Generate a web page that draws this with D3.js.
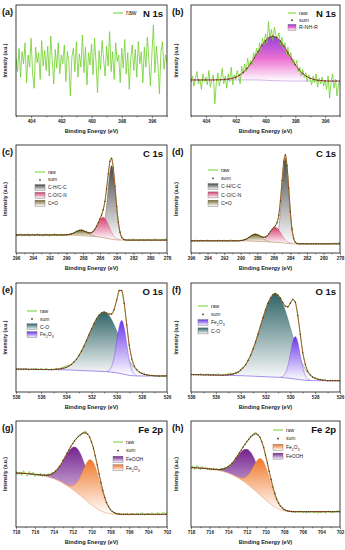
<!DOCTYPE html>
<html>
<head>
<meta charset="utf-8">
<script src="https://cdn.jsdelivr.net/npm/d3@7"></script>
<style>
  body { margin: 0; background: #fff; }
  svg { display: block; }
  text { font-family: "Liberation Sans", Arial, sans-serif; }
</style>
</head>
<body>
<div id="chart"></div>
<script>
// tick labels (binding energy, eV)
const ticksN = [404, 402, 400, 398, 396];
const ticksC = [296, 294, 292, 290, 288, 286, 284, 282, 280, 278];
const ticksO = [538, 536, 534, 532, 530, 528, 526];
const ticksFe = [718, 716, 714, 712, 710, 708, 706, 704, 702];

// (a) N 1s raw, 405 -> 395 eV, step 0.1
const rawA = [52,40,61,35,58,47,66,30,55,44, 70,38,25,62,48,57,33,68,45,59,
  41,63,36,72,50,29,60,43,66,38, 55,47,64,31,58,49,18,53,61,40,
  67,35,56,44,73,39,62,28,57,46, 65,37,70,48,21,59,42,68,51,36,
  63,45,76,40,58,33,66,49,55,30, 61,43,69,38,57,24,52,64,41,60,
  35,67,47,58,30,62,44,71,50,27, 56,82,39,63,46,20,58,67,42,55, 48];

// (b) N 1s raw, 405 -> 395 eV, step 0.1
const rawB = [30,36,27,34,40,29,33,24,38,31, 35,28,41,26,33,37,11,30,39,27,
  34,43,29,36,25,38,31,44,28,37, 33,41,36,29,45,38,47,40,52,44,
  50,46,57,53,61,55,66,59,70,64, 74,66,85,70,78,68,80,73,69,75,
  64,71,60,66,56,62,52,57,48,51, 45,50,40,44,36,42,35,39,31,37,
  33,28,36,30,38,26,34,29,35,27, 32,24,36,16,30,38,25,33,18,29, 31];
// (b) fit, 405 -> 395 eV, step 0.25
const sumB = [32.5,32.5,32.5,32.5,32.5,32.5,32.5,32.6,32.7,32.9,33.2,33.9,35.0,36.7,39.3,42.8,47.2,
  52.5,58.0,63.5,68.0,70.9,71.9,70.7,67.5,62.8,57.2,51.5,46.2,41.8,38.3,35.7,34.0,32.9,32.2,31.9,31.7,
  31.5,31.5,31.5,31.5];
const bgB = [32.5,32.5,32.5,32.5,32.5,32.5,32.5,32.5,32.5,32.5,32.5,32.5,32.5,32.5,32.5,32.5,32.5,
  32.5,32.4,32.3,32.2,32.0,31.9,31.8,31.7,31.6,31.6,31.5,
  31.5,31.5,31.5,31.5,31.5,31.5,31.5,31.5,31.5,31.5,31.5,31.5,31.5];
const nhrB = [0.2,0.4,0.7,1.4,2.5,4.2,6.8,10.3,14.7,20.0,25.6,31.2,35.8,38.9,40,
  38.9,35.8,31.2,25.6,20.0,14.7,10.3,6.8,4.2,2.5,1.4,0.7,0.4,0.2]; // from 403 eV

// (c) C 1s, 296 -> 278 eV, step 0.2
const rawC = [17.5,15.8,16.9,18.0,15.6,17.2,16.1,17.9,15.4,16.8, 17.6,15.9,16.5,18.2,16.0,17.1,15.5,16.9,17.8,16.2,
  15.7,17.4,16.6,18.1,15.9,17.0,16.3,17.7,15.8,16.9,
  17.3,16.6,17.9,17.2,18.9,18.6,20.5,20.0,21.8,20.7,21.4,19.6,20.2,18.4,19.0,18.5,20.6,21.5,25.3,27.6,
  32.0,34.7,40.8,47.2,60.3,73.0,85.6,88.5,78.1,62.6,42.7,29.0,18.7,15.1,12.3,12.8,
  11.6,12.7,11.2,12.4,13.0,11.5,12.2,11.0,12.9,11.8, 12.5,11.3,12.8,11.9,12.3,11.1,12.6,13.1,11.7,12.2,
  11.4,12.9,12.0,13.3,11.8];
const sumC = [16.7,16.7,16.7,16.7,16.7,16.7,16.7,16.7,16.7,16.7,16.7,16.7,16.7,16.7,16.7,
  16.7,16.7,16.7,16.7,16.7,16.7,16.7,16.7,16.7,16.7,16.7,16.7,16.7,16.7,16.7,
  16.9,17.0,17.2,17.7,18.2,19.0,19.8,20.5,21.0,21.1,20.8,20.1,19.5,18.8,18.5,18.9,20.0,22.0,24.8,28.0,
  31.5,35.2,40.1,47.8,59.5,73.5,84.8,87.4,78.8,61.9,43.3,28.4,19.3,14.5,12.8,12.2,
  12.0,12.0,12.0,12.0,12.0,12.0,12.0,12.0,12.0,12.0,12.0,12.0,12.0,12.0,12.0,12.0,12.0,12.0,12.0,12.0,
  12.0,12.0,12.0,12.0,12.0];
const bgC = [16.7,16.7,16.7,16.7,16.7,16.7,16.7,16.7,16.7,16.7,16.7,16.7,16.7,16.7,16.7,
  16.7,16.7,16.7,16.7,16.7,16.7,16.7,16.7,16.7,16.7,16.7,16.7,16.7,16.7,16.7,
  16.7,16.7,16.6,16.6,16.5,16.5,16.4,16.3,16.2,16.1,16.0,15.9,15.8,15.7,15.6,15.5,15.4,15.3,15.1,14.9,
  14.7,14.5,14.2,13.9,13.6,13.3,13.0,12.7,12.5,12.3,12.2,12.1,12.05,12.0,12.0,12.0,
  12.0,12.0,12.0,12.0,12.0,12.0,12.0,12.0,12.0,12.0,12.0,12.0,12.0,12.0,12.0,12.0,12.0,12.0,12.0,12.0,
  12.0,12.0,12.0,12.0,12.0];
const ccC = [0.2,0.8,2.5,6.9,15.7,29.9,47.3,62.3,68.3,62.3,47.3,29.9,15.7,6.9,2.5,0.8,0.2]; // from 286.2
const coC = [0.3,0.6,1.2,2.3,4.0,6.4,9.5,12.9,16.0,18.2,19,18.2,16.0,12.9,9.5,6.4,4.0,2.3,1.2,0.6,0.3]; // from 287.6
const cdoC = [0.15,0.3,0.6,1.1,1.7,2.5,3.4,4.2,4.8,5,4.8,4.2,3.4,2.5,1.7,1.1,0.6,0.3,0.15]; // from 290.0

// (d) C 1s, 296 -> 278 eV, step 0.2
const rawD = [11.8,10.9,11.5,12.0,10.7,11.4,11.9,10.8,11.6,11.1, 12.2,10.6,11.3,11.8,10.9,11.7,11.0,12.1,10.8,11.4,
  11.9,11.2,10.7,11.6,12.3,11.0,11.5,10.9,11.8,11.3,
  11.9,11.4,12.4,12.9,13.1,14.8,15.9,16.2,17.8,17.6,17.5,16.0,15.9,14.6,14.9,14.6,16.2,17.4,20.3,21.6,
  24.1,25.0,28.6,34.5,48.7,66.6,85.0,91.4,80.6,60.8,37.7,22.6,13.1,10.3,8.6,8.9,
  8.2,8.9,8.4,8.7,8.1,8.8,8.5,8.3,8.9,8.0, 8.6,8.4,9.0,8.2,8.7,8.5,8.1,8.8,8.3,8.9,
  8.6,9.4,8.2,9.8,8.7];
const sumD = [11.3,11.3,11.3,11.3,11.3,11.3,11.3,11.3,11.3,11.3,11.3,11.3,11.3,11.3,11.3,
  11.3,11.3,11.3,11.3,11.3,11.3,11.3,11.3,11.3,11.3,11.3,11.3,11.3,11.3,11.3,
  11.5,11.7,12.1,12.6,13.4,14.4,15.4,16.5,17.1,17.3,17.0,16.4,15.4,14.8,14.4,14.9,15.9,17.7,19.9,21.9,
  23.7,25.4,28.1,34.9,48.2,67.1,84.5,90.9,81.1,60.3,38.2,22.2,13.5,10.0,8.8,8.5,
  8.5,8.5,8.5,8.5,8.5,8.5,8.5,8.5,8.5,8.5,8.5,8.5,8.5,8.5,8.5,8.5,8.5,8.5,8.5,8.5,
  8.5,8.5,8.5,8.5,8.5];
const bgD = [11.3,11.3,11.3,11.3,11.3,11.3,11.3,11.3,11.3,11.3,11.3,11.3,11.3,11.3,11.3,
  11.3,11.3,11.3,11.3,11.3,11.3,11.3,11.3,11.3,11.3,11.3,11.3,11.3,11.3,11.3,
  11.3,11.3,11.25,11.2,11.15,11.1,11.0,10.95,10.9,10.8,10.75,10.7,10.6,10.55,10.5,10.45,10.4,10.3,10.2,10.1,
  10.0,9.9,9.8,9.7,9.6,9.5,9.3,9.1,8.9,8.75,8.65,8.6,8.55,8.5,8.5,8.5,
  8.5,8.5,8.5,8.5,8.5,8.5,8.5,8.5,8.5,8.5,8.5,8.5,8.5,8.5,8.5,8.5,8.5,8.5,8.5,8.5,
  8.5,8.5,8.5,8.5,8.5];
const ccD = [0.3,1.5,4.9,13.4,29.1,50.6,70.5,78.8,70.5,50.6,29.1,13.4,4.9,1.5,0.3]; // from 286.0
const coD = [0.2,0.4,0.9,1.7,3.0,4.7,7.0,9.5,11.8,13.4,14,13.4,11.8,9.5,7.0,4.7,3.0,1.7,0.9,0.4,0.2]; // from 287.8
const cdoD = [0.2,0.4,0.8,1.4,2.2,3.3,4.4,5.5,6.2,6.5,6.2,5.5,4.4,3.3,2.2,1.4,0.8,0.4,0.2]; // from 290.0

// (e) O 1s, 538 -> 526 eV, step 0.2
const rawE = [21.8,20.3,21.5,20.6,22.0,20.1,21.2,20.9,21.7,20.2,21.4,20.5,21.9,20.3,21.1,
  20.4,21.6,20.8,22.3,22.8,23.9,24.5,25.0,28.1,29.6,33.9,37.0,42.6,46.8,53.1,57.4,63.3,66.8,71.2,72.1,
  73.9,72.0,71.9,71.2,76.3,83.8,93.7,92.8,81.0,62.2,42.5,30.9,23.4,20.8,17.9,17.5,16.0,15.9,15.1,15.4,14.6,
  15.1,14.3,14.9,14.5,15.2];
const sumE = [21.0,21.0,20.9,20.9,20.9,20.8,20.8,20.8,20.7,20.7,20.7,20.6,20.6,20.6,20.5,
  20.7,20.9,21.0,21.4,21.9,22.6,23.8,25.3,27.4,30.0,33.4,37.4,42.0,47.1,52.5,57.8,62.8,67.2,70.6,72.6,
  73.3,72.6,71.5,71.6,75.6,84.3,93.0,93.3,81.3,61.6,43.0,30.4,23.8,20.3,18.3,17.1,16.3,15.7,15.3,15.1,14.9,
  14.7,14.7,14.7,14.7,14.7];
const bgE = [21.0,21.0,20.9,20.9,20.9,20.8,20.8,20.8,20.7,20.7,20.7,20.6,20.6,20.6,20.5,20.5,20.5,20.4,
  20.4,20.3,20.2,20.2,20.1,20.0,19.9,19.8,19.7,19.6,19.5,19.4,19.3,19.2,19.1,19.0,18.9,18.8,18.6,18.4,
  18.2,17.9,17.6,17.2,16.7,16.2,15.7,15.3,15.0,14.9,14.8,14.7,14.7,
  14.7,14.7,14.7,14.7,14.7,14.7,14.7,14.7,14.7,14.7];
const oCoE = [0.2,0.4,0.6,1.0,1.6,2.4,3.6,5.2,7.4,10.1,13.6,17.7,22.4,27.6,33.1,38.5,43.6,48.1,51.6,53.7,54.5,
  53.7,51.6,48.1,43.6,38.5,33.1,27.6,22.4,17.7,13.6,10.1,7.4,5.2,3.6,2.4,1.6,1.0,0.6,0.4,0.2]; // from 535.0
const oFeE = [0.3,1.5,5.3,14.1,28.2,42.7,49,42.7,28.2,14.1,5.3,1.5,0.3]; // from 530.8

// (f) O 1s, 538 -> 526 eV, step 0.2
const rawF = [16.6,15.4,16.3,15.5,16.8,15.2,16.1,16.4,15.0,16.2,15.8,16.7,15.1,16.0,
  15.9,16.9,17.4,16.2,18.1,17.6,20.8,22.9,24.3,29.6,33.0,40.1,45.2,53.8,60.0,68.9,74.7,82.2,85.7,90.1,
  90.9,88.3,86.8,81.4,79.3,77.6,82.0,84.4,83.1,69.8,53.5,35.7,26.1,18.5,16.4,13.2,13.1,11.4,11.8,10.6,11.2,
  10.0,10.8,10.2,10.9,10.3,10.6];
const sumF = [16.0,16.0,15.9,15.9,15.8,15.8,15.7,15.7,15.6,15.6,15.5,15.5,15.4,15.4,
  15.6,15.8,16.1,16.6,17.3,18.4,20.0,22.2,25.1,28.9,33.7,39.4,45.9,53.1,60.7,68.3,75.4,81.5,86.3,89.2,
  90.2,89.0,86.2,82.0,78.7,78.2,81.4,85.0,82.4,70.5,52.8,36.4,25.4,19.1,15.8,13.8,12.6,11.8,11.3,10.9,10.7,
  10.4,10.4,10.4,10.4,10.4,10.4];
const bgF = [16.0,16.0,15.9,15.9,15.8,15.8,15.7,15.7,15.6,15.6,15.5,15.5,15.4,15.4,15.3,
  15.3,15.2,15.2,15.1,15.0,15.0,14.9,14.8,14.7,14.6,14.5,14.4,14.3,14.2,14.1,14.0,13.9,13.8,13.7,13.6,
  13.5,13.4,13.2,13.0,12.8,12.5,12.2,11.9,11.6,11.3,11.0,10.8,10.6,10.5,10.4,10.4,10.4,10.4,10.4,10.4,10.4,
  10.4,10.4,10.4,10.4,10.4];
const oCoF = [0.3,0.5,0.9,1.4,2.2,3.4,5.0,7.3,10.3,14.2,19.1,24.9,31.5,38.8,46.5,54.2,61.4,67.6,72.5,75.5,76.6,
  75.5,72.5,67.6,61.4,54.2,46.5,38.8,31.5,24.9,19.1,14.2,10.3,7.3,5.0,3.4,2.2,1.4,0.9,0.5,0.3]; // from 535.2
const oFeF = [0.3,1.2,4.3,11.2,22.4,34.0,39,34.0,22.4,11.2,4.3,1.2,0.3]; // from 530.8

// (g) Fe 2p, 718 -> 702 eV, step 0.2
const rawG = [52.8,49.5,51.9,48.7,53.1,50.0,47.9,52.4,49.1,51.6,47.5,50.3,
  48.2,50.6,47.6,50.1,48.0,50.4,48.7,51.5,50.6,53.8,53.9,58.1,58.8,
  63.9,65.3,70.4,72.0,76.6,78.1,82.0,83.0,86.1,86.3,88.9,89.6,90.5,86.8,85.4,79.6,75.2,66.4,59.5,49.6,
  42.6,33.9,28.7,22.5,19.9,16.1,15.3,13.1,13.4,11.8,12.9,
  11.4,12.6,11.9,13.0,11.2,12.4,12.8,11.5,13.3,11.8,12.2,13.6,11.1,12.5,12.9,11.7,13.4,12.0,11.6,13.8,
  12.3,11.9,14.2,12.6,13.5];
const sumG = [51.0,50.9,50.8,50.7,50.6,50.5,50.4,50.2,50.0,49.8,49.6,49.4,
  49.3,49.1,49.0,48.9,48.9,49.0,49.5,50.1,51.2,52.6,54.5,56.9,59.6,
  62.8,66.0,69.4,72.7,75.8,78.7,81.2,83.4,85.2,86.9,88.0,88.8,88.7,87.5,84.7,80.3,74.4,67.1,58.7,50.2,
  41.8,34.5,28.0,23.1,19.3,16.6,14.7,13.6,12.7,12.3,12.2,
  12.0,12.0,12.0,12.0,12.0,12.0,12.0,12.0,12.0,12.0,12.0,12.0,12.0,12.0,12.0,12.0,12.0,12.0,12.0,12.0,
  12.0,12.0,12.0,12.0,12.0];
const bgG = [51.0,50.9,50.8,50.7,50.6,50.5,50.4,50.2,50.0,49.8,49.6,49.4,49.1,48.8,48.5,
  48.1,47.7,47.2,46.7,46.1,45.5,44.8,44.0,43.2,42.3,41.3,40.2,39.1,37.9,36.7,35.4,34.1,32.7,31.3,29.9,
  28.4,26.9,25.4,23.9,22.4,21.0,19.7,18.5,17.3,16.2,15.2,14.4,13.7,13.2,12.8,12.5,12.3,12.2,12.1,12.0,12.0,
  12.0,12.0,12.0,12.0,12.0,12.0,12.0,12.0,12.0,12.0,12.0,12.0,12.0,12.0,12.0,12.0,12.0,12.0,12.0,12.0,
  12.0,12.0,12.0,12.0,12.0];
const feoohG = [0.2,0.3,0.5,0.8,1.2,1.8,2.8,4.0,5.7,7.8,10.5,13.7,17.3,21.3,25.5,29.7,33.6,37.0,39.7,41.4,42,
  41.4,39.7,37.0,33.6,29.7,25.5,21.3,17.3,13.7,10.5,7.8,5.7,4.0,2.8,1.8,1.2,0.8,0.5,0.3,0.2]; // from 715.6
const fe2o3G = [0.2,0.3,0.6,1.2,2.1,3.6,5.7,8.7,12.5,17.3,22.6,28.3,33.6,38.1,41.0,42,
  41.0,38.1,33.6,28.3,22.6,17.3,12.5,8.7,5.7,3.6,2.1,1.2,0.6,0.3,0.2]; // from 713.0

// (h) Fe 2p, 718 -> 702 eV, step 0.2
const rawH = [55.1,57.6,54.2,58.3,56.9,53.8,57.2,55.0,56.6,53.9,55.8,
  53.6,55.7,53.5,55.4,53.1,55.5,53.9,56.2,54.8,57.9,57.1,61.0,61.3,65.8,66.4,70.8,71.9,76.1,77.2,81.3,
  81.9,85.8,85.6,88.8,89.0,86.0,85.7,79.4,75.9,67.1,61.2,51.6,45.5,36.9,32.4,25.8,23.5,19.2,18.7,16.0,
  16.3,14.4,15.4,13.9,14.8,
  13.6,14.9,14.0,15.2,13.4,14.6,12.9,14.3,13.7,15.0,13.2,14.5,12.8,14.1,13.5,14.8,13.0,14.4,15.3,13.6,
  14.2,13.9,14.7,15.4,14.1];
const sumH = [56.0,56.0,55.9,55.8,55.7,55.6,55.5,55.4,55.1,54.9,54.7,
  54.6,54.5,54.4,54.3,54.2,54.3,54.7,55.1,55.9,56.9,58.3,60.1,62.2,64.7,67.2,69.9,72.7,75.4,78.0,80.5,
  82.8,84.9,86.6,87.7,87.9,86.9,84.6,80.5,75.0,68.0,60.3,52.4,44.8,37.7,31.6,26.5,22.7,19.9,18.0,16.6,
  15.6,15.1,14.8,14.6,14.5,
  14.5,14.5,14.5,14.5,14.5,14.5,14.5,14.5,14.5,14.5,14.5,14.5,14.5,14.5,14.5,14.5,14.5,14.5,14.5,14.5,
  14.5,14.5,14.5,14.5,14.5];
const bgH = [56.0,56.0,55.9,55.8,55.7,55.6,55.5,55.4,55.1,54.9,54.7,54.5,54.3,54.0,53.7,53.3,
  52.9,52.5,51.9,51.4,50.8,50.1,49.4,48.5,47.7,46.7,45.6,44.5,43.3,42.1,40.8,39.4,38.0,36.5,35.0,33.5,
  31.9,30.4,28.8,27.2,25.6,24.1,22.7,21.4,20.1,19.0,17.9,17.1,16.3,15.8,15.4,15.0,14.8,14.7,14.6,14.5,
  14.5,14.5,14.5,14.5,14.5,14.5,14.5,14.5,14.5,14.5,14.5,14.5,14.5,14.5,14.5,14.5,14.5,14.5,14.5,14.5,
  14.5,14.5,14.5,14.5,14.5];
const feoohH = [0.1,0.2,0.4,0.6,0.9,1.4,2.2,3.2,4.5,6.1,8.2,10.7,13.6,16.7,20.0,23.3,26.4,29.1,31.2,32.5,33,
  32.5,31.2,29.1,26.4,23.3,20.0,16.7,13.6,10.7,8.2,6.1,4.5,3.2,2.2,1.4,0.9,0.6,0.4,0.2,0.1]; // from 715.8
const fe2o3H = [0.1,0.3,0.5,1.0,1.8,3.0,4.7,7.2,10.4,14.4,18.9,23.6,28.0,31.7,34.2,35,
  34.2,31.7,28.0,23.6,18.9,14.4,10.4,7.2,4.7,3.0,1.8,1.0,0.5,0.3,0.1]; // from 713.4

// ---- colours ----
const rawColor = "#6fcf2a";
const sumLine = "#b0392c";
const sumDot = "#3e3310";
const grads = {
  nhr:   [["0%", "#9440dc"], ["50%", "#ec6fd2"], ["100%", "#ffffff"]],
  cc:    [["0%", "#474747"], ["100%", "#ffffff"]],
  co:    [["0%", "#d63d6e"], ["100%", "#ffffff"]],
  cdo:   [["0%", "#7a6a2a"], ["100%", "#ffffff"]],
  oco:   [["0%", "#2f6467"], ["100%", "#ffffff"]],
  ofe:   [["0%", "#6a35e8"], ["100%", "#ffffff"]],
  feooh: [["0%", "#74238f"], ["100%", "#f7eefa"]],
  fe2o3: [["0%", "#f07a2c"], ["100%", "#ffffff"]]
};

// ---- layout ----
const rows = [{t: 5, b: 116}, {t: 145, b: 253}, {t: 283, b: 392}, {t: 421, b: 527}];
const cols = [{x0: 16, x1: 167, yl: 7, lab: 2}, {x0: 191, x1: 340, yl: 178, lab: 172}];

const panels = [
  {key: "a", c: 0, r: 0, title: "N 1s", dom: [405, 395], ticks: ticksN, raw: rawA, rawStep: 0.1,
   leg: {x: 113, y: 13, dy: 8, fs: 6.5, w: 10}},
  {key: "b", c: 1, r: 0, title: "N 1s", dom: [405, 395], ticks: ticksN, raw: rawB, rawStep: 0.1,
   step: 0.25, sum: sumB, bg: bgB, bgColor: "#c6a6e6",
   comps: [{name: "R-NH-R", vals: nhrB, from: 403, g: "nhr", line: "#8e2de2"}],
   leg: {x: 288, y: 13, dy: 7.2, fs: 5.3, w: 8}},
  {key: "c", c: 0, r: 1, title: "C 1s", dom: [296, 278], ticks: ticksC, raw: rawC, rawStep: 0.2,
   step: 0.2, sum: sumC, bg: bgC, bgColor: "#c9a27e",
   comps: [{name: "C-H/C-C", vals: ccC, from: 286.2, g: "cc", line: "#555"},
           {name: "C-O/C-N", vals: coC, from: 287.6, g: "co", line: "#d63d6e"},
           {name: "C=O", vals: cdoC, from: 290.0, g: "cdo", line: "#7a6a2a"}],
   leg: {x: 35, y: 172, dy: 7.8, fs: 4.8, w: 10}},
  {key: "d", c: 1, r: 1, title: "C 1s", dom: [296, 278], ticks: ticksC, raw: rawD, rawStep: 0.2,
   step: 0.2, sum: sumD, bg: bgD, bgColor: "#c9a27e",
   comps: [{name: "C-H/C-C", vals: ccD, from: 286.0, g: "cc", line: "#555"},
           {name: "C-O/C-N", vals: coD, from: 287.8, g: "co", line: "#d63d6e"},
           {name: "C=O", vals: cdoD, from: 290.0, g: "cdo", line: "#7a6a2a"}],
   leg: {x: 208, y: 170, dy: 8.3, fs: 5.2, w: 10}},
  {key: "e", c: 0, r: 2, title: "O 1s", dom: [538, 526], ticks: ticksO, raw: rawE, rawStep: 0.2,
   step: 0.2, sum: sumE, bg: bgE, bgColor: "#8c6fe6",
   comps: [{name: "C-O", vals: oCoE, from: 535.0, g: "oco", line: "#2f6467"},
           {name: "Fe2O3", vals: oFeE, from: 530.8, g: "ofe", line: "#6a35e8"}],
   leg: {x: 27, y: 311, dy: 7.9, fs: 5, w: 10}},
  {key: "f", c: 1, r: 2, title: "O 1s", dom: [538, 526], ticks: ticksO, raw: rawF, rawStep: 0.2,
   step: 0.2, sum: sumF, bg: bgF, bgColor: "#8c6fe6",
   comps: [{name: "C-O", vals: oCoF, from: 535.2, g: "oco", line: "#2f6467"},
           {name: "Fe2O3", vals: oFeF, from: 530.8, g: "ofe", line: "#6a35e8"}],
   legOrder: [1, 0],
   leg: {x: 198, y: 306, dy: 8.3, fs: 5, w: 10}},
  {key: "g", c: 0, r: 3, title: "Fe 2p", dom: [718, 702], ticks: ticksFe, raw: rawG, rawStep: 0.2,
   step: 0.2, sum: sumG, bg: bgG, bgColor: "#f2b98f",
   comps: [{name: "FeOOH", vals: feoohG, from: 715.6, g: "feooh", line: "#74238f"},
           {name: "Fe2O3", vals: fe2o3G, from: 713.0, g: "fe2o3", line: "#f07a2c"}],
   leg: {x: 113, y: 442, dy: 8.6, fs: 5, w: 10}},
  {key: "h", c: 1, r: 3, title: "Fe 2p", dom: [718, 702], ticks: ticksFe, raw: rawH, rawStep: 0.2,
   step: 0.2, sum: sumH, bg: bgH, bgColor: "#f2b98f",
   comps: [{name: "FeOOH", vals: feoohH, from: 715.8, g: "feooh", line: "#74238f"},
           {name: "Fe2O3", vals: fe2o3H, from: 713.4, g: "fe2o3", line: "#f07a2c"}],
   legOrder: [1, 0],
   leg: {x: 273, y: 430, dy: 8.7, fs: 5, w: 10}}
];

const svg = d3.select("#chart").append("svg")
    .attr("width", 345)
    .attr("height", 550);
svg.append("rect").attr("width", 345).attr("height", 550).attr("fill", "#fff");
const defs = svg.append("defs");

Object.entries(grads).forEach(([id, stops]) => {
  const lg = defs.append("linearGradient").attr("id", "grad-" + id)
      .attr("x1", 0).attr("y1", 0).attr("x2", 0).attr("y2", 1);
  stops.forEach(s => lg.append("stop").attr("offset", s[0]).attr("stop-color", s[1]));
});

// legend label, digits of Fe2O3 as subscripts
function richText(sel, s, fs) {
  if (s.indexOf("Fe") !== 0) { sel.text(s); return; }
  s.split(/(\d)/).filter(part => part !== "").forEach(part => {
    if (/^\d$/.test(part)) {
      sel.append("tspan").attr("font-size", fs * 0.7).attr("baseline-shift", "sub").text(part);
    } else {
      sel.append("tspan").text(part);
    }
  });
}

function drawPanel(p) {
  const col = cols[p.c], row = rows[p.r];
  const x = d3.scaleLinear().domain(p.dom).range([col.x0, col.x1]);
  const y = d3.scaleLinear().domain([0, 100]).range([row.b, row.t]);
  const g = svg.append("g");

  defs.append("clipPath").attr("id", "clip-" + p.key)
    .append("rect")
      .attr("x", col.x0).attr("y", row.t)
      .attr("width", col.x1 - col.x0).attr("height", row.b - row.t);
  const plot = g.append("g").attr("clip-path", "url(#clip-" + p.key + ")");

  if (p.bg) {
    const e0 = p.dom[0];
    // components sit on top of the background
    p.comps.forEach(c => {
      const off = Math.round((e0 - c.from) / p.step);
      const pts = c.vals.map((v, i) => ({e: c.from - i * p.step, b: p.bg[off + i], v: v}));
      plot.append("path").datum(pts)
          .attr("fill", "url(#grad-" + c.g + ")")
          .attr("d", d3.area()
            .x(d => x(d.e)).y0(d => y(d.b)).y1(d => y(d.b + d.v))
            .curve(d3.curveMonotoneX));
      plot.append("path").datum(pts)
          .attr("fill", "none").attr("stroke", c.line).attr("stroke-width", 0.4)
          .attr("d", d3.line().x(d => x(d.e)).y(d => y(d.b + d.v)).curve(d3.curveMonotoneX));
    });
    plot.append("path").datum(p.bg)
        .attr("fill", "none").attr("stroke", p.bgColor).attr("stroke-width", 0.8)
        .attr("d", d3.line().x((d, i) => x(e0 - i * p.step)).y(d => y(d)).curve(d3.curveMonotoneX));
  }

  // raw spectrum
  plot.append("path").datum(p.raw)
      .attr("fill", "none").attr("stroke", rawColor).attr("stroke-width", 0.8)
      .attr("stroke-linejoin", "round")
      .attr("d", d3.line().x((d, i) => x(p.dom[0] - i * p.rawStep)).y(d => y(d)));

  if (p.sum) {
    const e0 = p.dom[0];
    plot.append("path").datum(p.sum)
        .attr("fill", "none").attr("stroke", sumLine).attr("stroke-width", 0.8)
        .attr("d", d3.line().x((d, i) => x(e0 - i * p.step)).y(d => y(d)).curve(d3.curveMonotoneX));
    plot.selectAll("circle.sum").data(p.sum).enter().append("circle")
        .attr("class", "sum")
        .attr("cx", (d, i) => x(e0 - i * p.step))
        .attr("cy", d => y(d))
        .attr("r", 0.65)
        .attr("fill", sumDot);
  }

  // frame
  g.append("rect")
      .attr("x", col.x0).attr("y", row.t)
      .attr("width", col.x1 - col.x0).attr("height", row.b - row.t)
      .attr("fill", "none").attr("stroke", "#111").attr("stroke-width", 0.8);

  // x axis: labelled even ticks, minor odd ticks
  const lo = Math.min(p.dom[0], p.dom[1]), hi = Math.max(p.dom[0], p.dom[1]);
  const minor = d3.range(lo, hi + 1, 1).filter(v => p.ticks.indexOf(v) < 0);
  const ax = g.append("g").attr("transform", "translate(0," + row.b + ")")
      .call(d3.axisBottom(x).tickValues(p.ticks).tickSize(2.2).tickPadding(1.2).tickFormat(d3.format("d")));
  ax.select(".domain").remove();
  ax.selectAll("line").attr("stroke", "#111").attr("stroke-width", 0.5);
  ax.selectAll("text").attr("font-size", 4.6).attr("font-weight", "bold")
      .attr("fill", "#222").attr("font-family", "Liberation Sans, Arial, sans-serif");
  const mx = g.append("g").attr("transform", "translate(0," + row.b + ")")
      .call(d3.axisBottom(x).tickValues(minor).tickSize(1.3).tickFormat(""));
  mx.select(".domain").remove();
  mx.selectAll("text").remove();
  mx.selectAll("line").attr("stroke", "#111").attr("stroke-width", 0.5);

  // axis titles
  g.append("text")
      .attr("x", (col.x0 + col.x1) / 2).attr("y", row.b + 17)
      .attr("text-anchor", "middle").attr("font-size", 5.6).attr("font-weight", "bold")
      .attr("fill", "#222").text("Binding Energy (eV)");
  g.append("text")
      .attr("transform", "translate(" + col.yl + "," + (row.t + row.b) / 2 + ") rotate(-90)")
      .attr("text-anchor", "middle").attr("font-size", 5).attr("font-weight", "bold")
      .attr("fill", "#222").text("Intensity (a.u.)");

  // panel letter and core level
  g.append("text")
      .attr("x", col.lab).attr("y", row.t + 10)
      .attr("font-size", 9).attr("font-weight", "bold").attr("fill", "#111")
      .text("(" + p.key + ")");
  g.append("text")
      .attr("x", col.x1 - 4).attr("y", row.t + 12)
      .attr("text-anchor", "end").attr("font-size", 9.5).attr("font-weight", "bold")
      .attr("fill", "#111").text(p.title);

  // legend
  const L = p.leg;
  const lg = g.append("g");
  let yy = L.y;
  lg.append("line")
      .attr("x1", L.x).attr("x2", L.x + L.w).attr("y1", yy).attr("y2", yy)
      .attr("stroke", rawColor).attr("stroke-width", 1);
  lg.append("text").attr("x", L.x + L.w + 3).attr("y", yy + L.fs * 0.35)
      .attr("font-size", L.fs).attr("fill", "#222").text("raw");
  if (p.sum) {
    yy += L.dy;
    lg.append("circle").attr("cx", L.x + L.w / 2).attr("cy", yy).attr("r", 0.9).attr("fill", sumDot);
    lg.append("text").attr("x", L.x + L.w + 3).attr("y", yy + L.fs * 0.35)
        .attr("font-size", L.fs).attr("fill", "#222").text("sum");
    const order = p.legOrder || p.comps.map((c, i) => i);
    order.forEach(k => {
      const c = p.comps[k];
      yy += L.dy;
      lg.append("rect")
          .attr("x", L.x).attr("y", yy - 3).attr("width", L.w).attr("height", 6)
          .attr("fill", "url(#grad-" + c.g + ")").attr("stroke", "#666").attr("stroke-width", 0.4);
      const t = lg.append("text").attr("x", L.x + L.w + 3).attr("y", yy + L.fs * 0.35)
          .attr("font-size", L.fs).attr("fill", "#222");
      richText(t, c.name, L.fs);
    });
  }
}

panels.forEach(drawPanel);
</script>
</body>
</html>
